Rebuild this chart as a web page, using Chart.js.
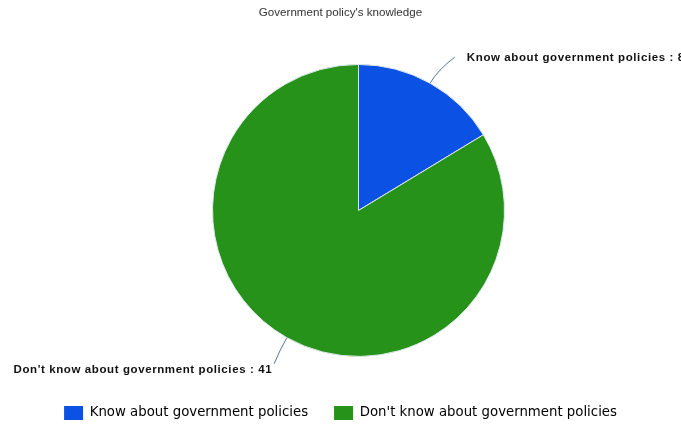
<!DOCTYPE html>
<html>
<head>
<meta charset="utf-8">
<script src="https://cdn.jsdelivr.net/npm/chart.js@4"></script>
<style>
  html, body { margin: 0; padding: 0; background: #fff; }
  #wrap { width: 681px; height: 425px; }
</style>
</head>
<body>
<div id="wrap"><canvas id="pieChart"></canvas></div>
<script>
const categorias = ["Know about government policies", "Don't know about government policies"];
const valores = [8, 41];
const cores = ["#0b52e4", "#279219"];

const deslocX = 18; // a pizza fica um pouco à direita do centro

// desloca a pizza e desenha os rótulos com linha de chamada
const rotulosExternos = {
  id: "rotulosExternos",
  beforeDatasetsDraw(chart) {
    chart.ctx.save();
    chart.ctx.translate(deslocX, 0);
  },
  afterDatasetsDraw(chart) {
    const ctx = chart.ctx;
    const meta = chart.getDatasetMeta(0);
    ctx.font = "bold 11.5px 'Liberation Sans', Arial, sans-serif";
    ctx.letterSpacing = "0.6px";
    ctx.fillStyle = "#111";
    ctx.strokeStyle = "#56788a";
    ctx.lineWidth = 1;
    ctx.textBaseline = "middle";
    meta.data.forEach((arc, i) => {
      const p = arc.getProps(["x", "y", "startAngle", "endAngle", "outerRadius"], true);
      const meio = (p.startAngle + p.endAngle) / 2;
      const dx = Math.cos(meio), dy = Math.sin(meio);
      const r = p.outerRadius;
      const lado = dx >= 0 ? 1 : -1;
      const x0 = p.x + dx * r, y0 = p.y + dy * r;
      const cx = p.x + dx * (r + 15), cy = p.y + dy * (r + 15);
      const x1 = p.x + dx * (r + 30) + (lado > 0 ? 10 : 2);
      const y1 = p.y + dy * (r + 30);
      ctx.beginPath();
      ctx.moveTo(x0, y0);
      ctx.quadraticCurveTo(cx, cy, x1, y1);
      ctx.stroke();
      const texto = categorias[i] + " : " + valores[i];
      if (lado > 0) {
        ctx.textAlign = "left";
        ctx.fillText(texto, x1 + 12, y1 + 1);
      } else {
        ctx.textAlign = "right";
        ctx.fillText(texto, x1 - 2, y1 + 6);
      }
    });
    ctx.restore();
  }
};

const ctx1 = document.getElementById("pieChart").getContext("2d");
const pieChart = new Chart(ctx1, {
  type: "pie",
  data: {
    labels: categorias,
    datasets: [{
      data: valores,
      backgroundColor: cores,
      borderColor: "#dfe8ee",
      borderWidth: 1,
      radius: 146
    }]
  },
  options: {
    responsive: true,
    maintainAspectRatio: false,
    animation: false,
    layout: { padding: { left: 0, right: 0, top: 0, bottom: -5 } },
    plugins: {
      title: {
        display: true,
        text: "Government policy's knowledge",
        color: "#333",
        font: { family: "'Liberation Sans', Arial, sans-serif", size: 11.6, weight: "normal" },
        padding: { top: 6, bottom: 21 }
      },
      legend: {
        position: "bottom",
        labels: {
          boxWidth: 19,
          boxHeight: 14,
          padding: 26,
          color: "#333",
          font: { family: "'DejaVu Sans', sans-serif", size: 13.3 },
          generateLabels(chart) {
            return categorias.map((c, i) => ({
              text: c,
              fillStyle: cores[i],
              strokeStyle: cores[i],
              lineWidth: 0,
              index: i,
              hidden: false
            }));
          }
        }
      },
      tooltip: { enabled: false }
    }
  },
  plugins: [rotulosExternos]
});
</script>
</body>
</html>
